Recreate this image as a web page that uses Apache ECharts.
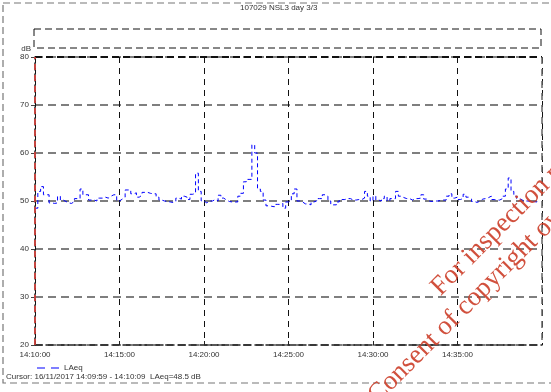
<!DOCTYPE html>
<html>
<head>
<meta charset="utf-8">
<script src="https://cdn.jsdelivr.net/npm/echarts@6/dist/echarts.min.js"></script>
<style>
  html, body { margin: 0; padding: 0; background: #fff; }
  #chart { width: 551px; height: 392px; }
</style>
</head>
<body>
<div id="chart"></div>
<script>
// LAeq logged every 10 s, starting 14:10:00 (seconds after midnight)
const startSec = 14 * 3600 + 10 * 60;
const stepSec = 10;
const laeq = [
  48.5, 52.0, 53.0, 51.3, 51.3, 49.6, 49.5, 49.6, 51.0, 50.2, 49.9, 49.6, 49.5, 49.9, 50.5, 50.5, 52.5, 51.3, 51.3, 50.2, 50.2, 50.0, 50.6, 50.6, 50.8, 50.6, 51.0, 51.3, 51.3, 50.0,
  50.4, 50.8, 52.3, 52.3, 51.5, 51.7, 50.8, 51.2, 51.8, 51.8, 51.6, 51.5, 51.5, 50.8, 50.2, 50.0, 49.9, 49.8, 49.7, 49.9, 50.6, 50.4, 51.0, 50.8, 50.3, 51.4, 51.6, 55.8, 52.0, 50.0,
  49.6, 50.0, 50.0, 50.3, 50.0, 51.2, 50.6, 50.2, 49.9, 49.8, 49.8, 49.8, 51.0, 51.6, 54.0, 54.5, 54.5, 61.7, 60.0, 52.5, 52.0, 50.2, 49.0, 48.9, 48.8, 49.3, 49.3, 49.5, 48.5, 49.8,
  50.0, 51.5, 52.5, 50.0, 49.8, 49.4, 49.4, 49.2, 49.8, 50.0, 50.5, 50.5, 51.3, 51.0, 50.0, 49.2, 49.2, 49.8, 50.3, 50.3, 50.5, 50.5, 50.2, 50.2, 50.3, 50.3, 50.6, 52.0, 51.0, 50.0,
  51.0, 50.2, 50.0, 50.5, 51.0, 50.0, 50.5, 50.5, 52.0, 51.0, 50.7, 50.5, 50.5, 50.2, 50.5, 50.5, 50.6, 51.3, 50.4, 50.0, 49.9, 50.0, 50.0, 50.1, 50.2, 50.2, 51.0, 51.5, 50.6, 50.8,
  50.3, 50.5, 51.4, 50.8, 50.4, 49.9, 49.7, 50.0, 50.4, 50.5, 50.7, 51.0, 50.3, 50.2, 50.2, 50.5, 51.0, 52.5, 54.8, 52.0, 51.0, 50.5, 50.2, 50.0, 50.0, 49.9, 49.9, 49.8, 50.0, 50.2
];
const yTicks = [20, 30, 40, 50, 60, 70, 80];
const xTickStep = 300;              // 5 minutes
const xMin = startSec;              // 14:10:00
const xMax = startSec + 30 * 60;    // 14:40:00
const cursorSec = startSec;         // cursor position
const titleText = '107029 NSL3 day 3/3';
const cursorText = 'Cursor: 16/11/2017 14:09:59 - 14:10:09  LAeq=48.5 dB';
const seriesName = 'LAeq';
const stampLines = ['For inspection purposes only.', 'Consent of copyright owner required for any other use.'];

const points = laeq.map((v, i) => [startSec + i * stepSec, v]);

function hms(sec) {
  const h = Math.floor(sec / 3600), m = Math.floor((sec % 3600) / 60), s = sec % 60;
  const p = n => String(n).padStart(2, '0');
  return p(h) + ':' + p(m) + ':' + p(s);
}

const font = 'Liberation Sans, Arial, sans-serif';
const serif = 'Liberation Serif, Times New Roman, serif';
const stampColor = 'rgba(205,65,45,0.92)';
const chart = echarts.init(document.getElementById('chart'), null, { renderer: 'canvas' });

chart.setOption({
  animation: false,
  backgroundColor: '#fff',
  grid: { left: 35, top: 57, width: 507, height: 288, containLabel: false },
  legend: {
    left: 32, top: 359,
    itemWidth: 22, itemHeight: 8, itemGap: 4,
    textStyle: { fontFamily: font, fontSize: 8, color: '#333' },
    data: [{ name: seriesName, icon: 'path://M0,0 L8,0 L8,1 L0,1 Z M14,0 L22,0 L22,1 L14,1 Z', itemStyle: { color: '#0000ff' } }]
  },
  xAxis: {
    type: 'value',
    min: xMin, max: xMax, interval: xTickStep,
    axisLine: { show: true, lineStyle: { color: '#222', type: [7, 4], width: 1.5 } },
    axisTick: { show: true, inside: true, length: 4, lineStyle: { color: '#222' } },
    axisLabel: {
      showMaxLabel: false, margin: 6,
      fontFamily: font, fontSize: 8, color: '#333',
      formatter: v => hms(v)
    },
    splitLine: { show: true, lineStyle: { color: '#111', type: [6, 5], width: 1 } }
  },
  yAxis: {
    type: 'value',
    min: yTicks[0], max: yTicks[yTicks.length - 1], interval: 10,
    name: 'dB', nameLocation: 'end', nameGap: 3,
    nameTextStyle: { fontFamily: font, fontSize: 8, color: '#333', align: 'right', padding: [0, 4, 0, 0] },
    axisLine: { show: true, lineStyle: { color: '#222', type: [7, 4], width: 1.5 } },
    axisTick: { show: true, length: 4, lineStyle: { color: '#444' } },
    axisLabel: { fontFamily: font, fontSize: 8, color: '#333', margin: 6 },
    splitLine: { show: true, lineStyle: { color: '#555', type: [8, 5], width: 1.5 } }
  },
  series: [
    {
      name: seriesName,
      type: 'line',
      step: 'end',
      data: points,
      showSymbol: false,
      symbol: 'none',
      lineStyle: { color: '#0000ff', width: 1, type: [4, 3] },
      itemStyle: { color: '#0000ff' },
      z: 3
    },
    {
      // cursor marker line
      name: 'cursor',
      type: 'line',
      data: [],
      markLine: {
        silent: true, symbol: 'none', label: { show: false },
        lineStyle: { color: '#e8403a', type: [6, 5], width: 1.5 },
        data: [{ xAxis: cursorSec }]
      },
      z: 4
    }
  ],
  graphic: [
    { type: 'rect', shape: { x: 3, y: 3, width: 620, height: 380 }, style: { fill: 'none', stroke: '#777', lineWidth: 1.2, lineDash: [7, 4] }, silent: true },
    { type: 'rect', shape: { x: 34, y: 29, width: 507, height: 19 }, style: { fill: 'none', stroke: '#111', lineWidth: 1, lineDash: [7, 4] }, silent: true },
    { type: 'line', shape: { x1: 35, y1: 57, x2: 542, y2: 57 }, style: { stroke: '#111', lineWidth: 1.8, lineDash: [7, 4] }, silent: true, z: 5 },
    { type: 'line', shape: { x1: 542, y1: 57, x2: 542, y2: 345 }, style: { stroke: '#666', lineWidth: 1.5, lineDash: [7, 5] }, silent: true, z: 5 },
    { type: 'text', x: 240, y: 4, style: { text: titleText, fontFamily: font, fontSize: 8, fill: '#333' }, silent: true },
    { type: 'text', left: 6, top: 373, style: { text: cursorText, fontFamily: font, fontSize: 8, fill: '#333' }, silent: true },
    {
      type: 'text', x: 445, y: 301, rotation: Math.PI / 4,
      style: { text: stampLines[0], fontFamily: serif, fontSize: 27, fill: stampColor, textVerticalAlign: 'bottom' },
      silent: true, z: 20
    },
    {
      type: 'text', x: 382, y: 409, rotation: Math.PI / 4,
      style: { text: stampLines[1], fontFamily: serif, fontSize: 27, fill: stampColor, textVerticalAlign: 'bottom' },
      silent: true, z: 20
    }
  ]
});
</script>
</body>
</html>
